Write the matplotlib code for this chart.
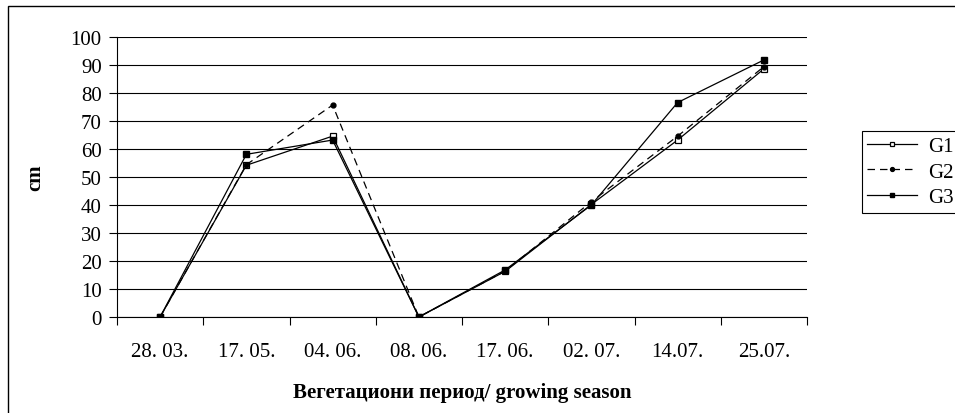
import numpy as np
import matplotlib
matplotlib.use("Agg")
import matplotlib.pyplot as plt
from matplotlib.patches import Rectangle

plt.rcParams['font.family'] = ['Liberation Serif', 'DejaVu Serif']

dates = ["28. 03.", "17. 05.", "04. 06.", "08. 06.", "17. 06.", "02. 07.", "14.07.", "25.07."]
g1 = [0, 54.2, 64.6, 0, 16.3, 40.2, 63.2, 88.6]
g2 = [0, 54.4, 75.7, 0, 16.4, 41.2, 64.6, 89.4]
g3 = [0, 58.1, 63.2, 0, 16.8, 40.0, 76.6, 91.8]
yticks = list(range(0, 101, 10))

fig = plt.figure(figsize=(9.55, 4.14), dpi=100)
ax = fig.add_axes([117/955, 1 - 318/414, 690/955, 280/414])

x = np.arange(len(dates))
ax.plot(x, g1, color='black', lw=0.9, marker='s', ms=4, mfc='white', mec='black', mew=0.9, label='G1', zorder=3)
ax.plot(x, g2, color='black', lw=0.9, ls=(0, (6, 4)), marker='o', ms=3.5, mfc='black', mec='black', label='G2', zorder=3)
ax.plot(x, g3, color='black', lw=0.9, marker='s', ms=4, mfc='black', mec='black', label='G3', zorder=3)

ax.set_xlim(-0.5, len(dates) - 0.5)
ax.set_ylim(0, 100)
ax.set_yticks(yticks)
ax.set_yticklabels([str(v) for v in yticks], fontsize=15)
ax.set_xticks(x)
ax.set_xticklabels(dates, fontsize=15)
ax.set_xticks(np.arange(-0.5, len(dates)), minor=True)
ax.tick_params(axis='x', which='major', length=0, pad=18)
ax.tick_params(axis='x', which='minor', length=6, width=0.8, direction='out')
ax.tick_params(axis='y', length=6, width=0.8, direction='out', pad=5)

ax.grid(axis='y', color='black', lw=0.8)
ax.set_axisbelow(True)
for s in ['top', 'right']:
    ax.spines[s].set_visible(False)
ax.spines['left'].set_linewidth(0.8)
ax.spines['bottom'].set_linewidth(0.8)

ax.set_ylabel('cm', fontsize=15, fontweight='bold', labelpad=18)
ax.set_xlabel('Вегетациони период/ growing season', fontsize=15, fontweight='bold', labelpad=15)

leg = ax.legend(loc='upper left', bbox_to_anchor=(862/955, 1 - 132/414), bbox_transform=fig.transFigure,
                fontsize=15, frameon=True, fancybox=False, edgecolor='black', framealpha=1,
                handlelength=2.4, handletextpad=0.5, borderpad=0.25, labelspacing=0.3, borderaxespad=0,
                markerscale=0.8)
leg.get_frame().set_linewidth(0.8)

fig.patches.append(Rectangle((8/955, -0.1), 1.2, 1 - 7/414 + 0.1, transform=fig.transFigure,
                             fill=False, edgecolor='black', lw=1))

fig.savefig('out.png', dpi=100)
